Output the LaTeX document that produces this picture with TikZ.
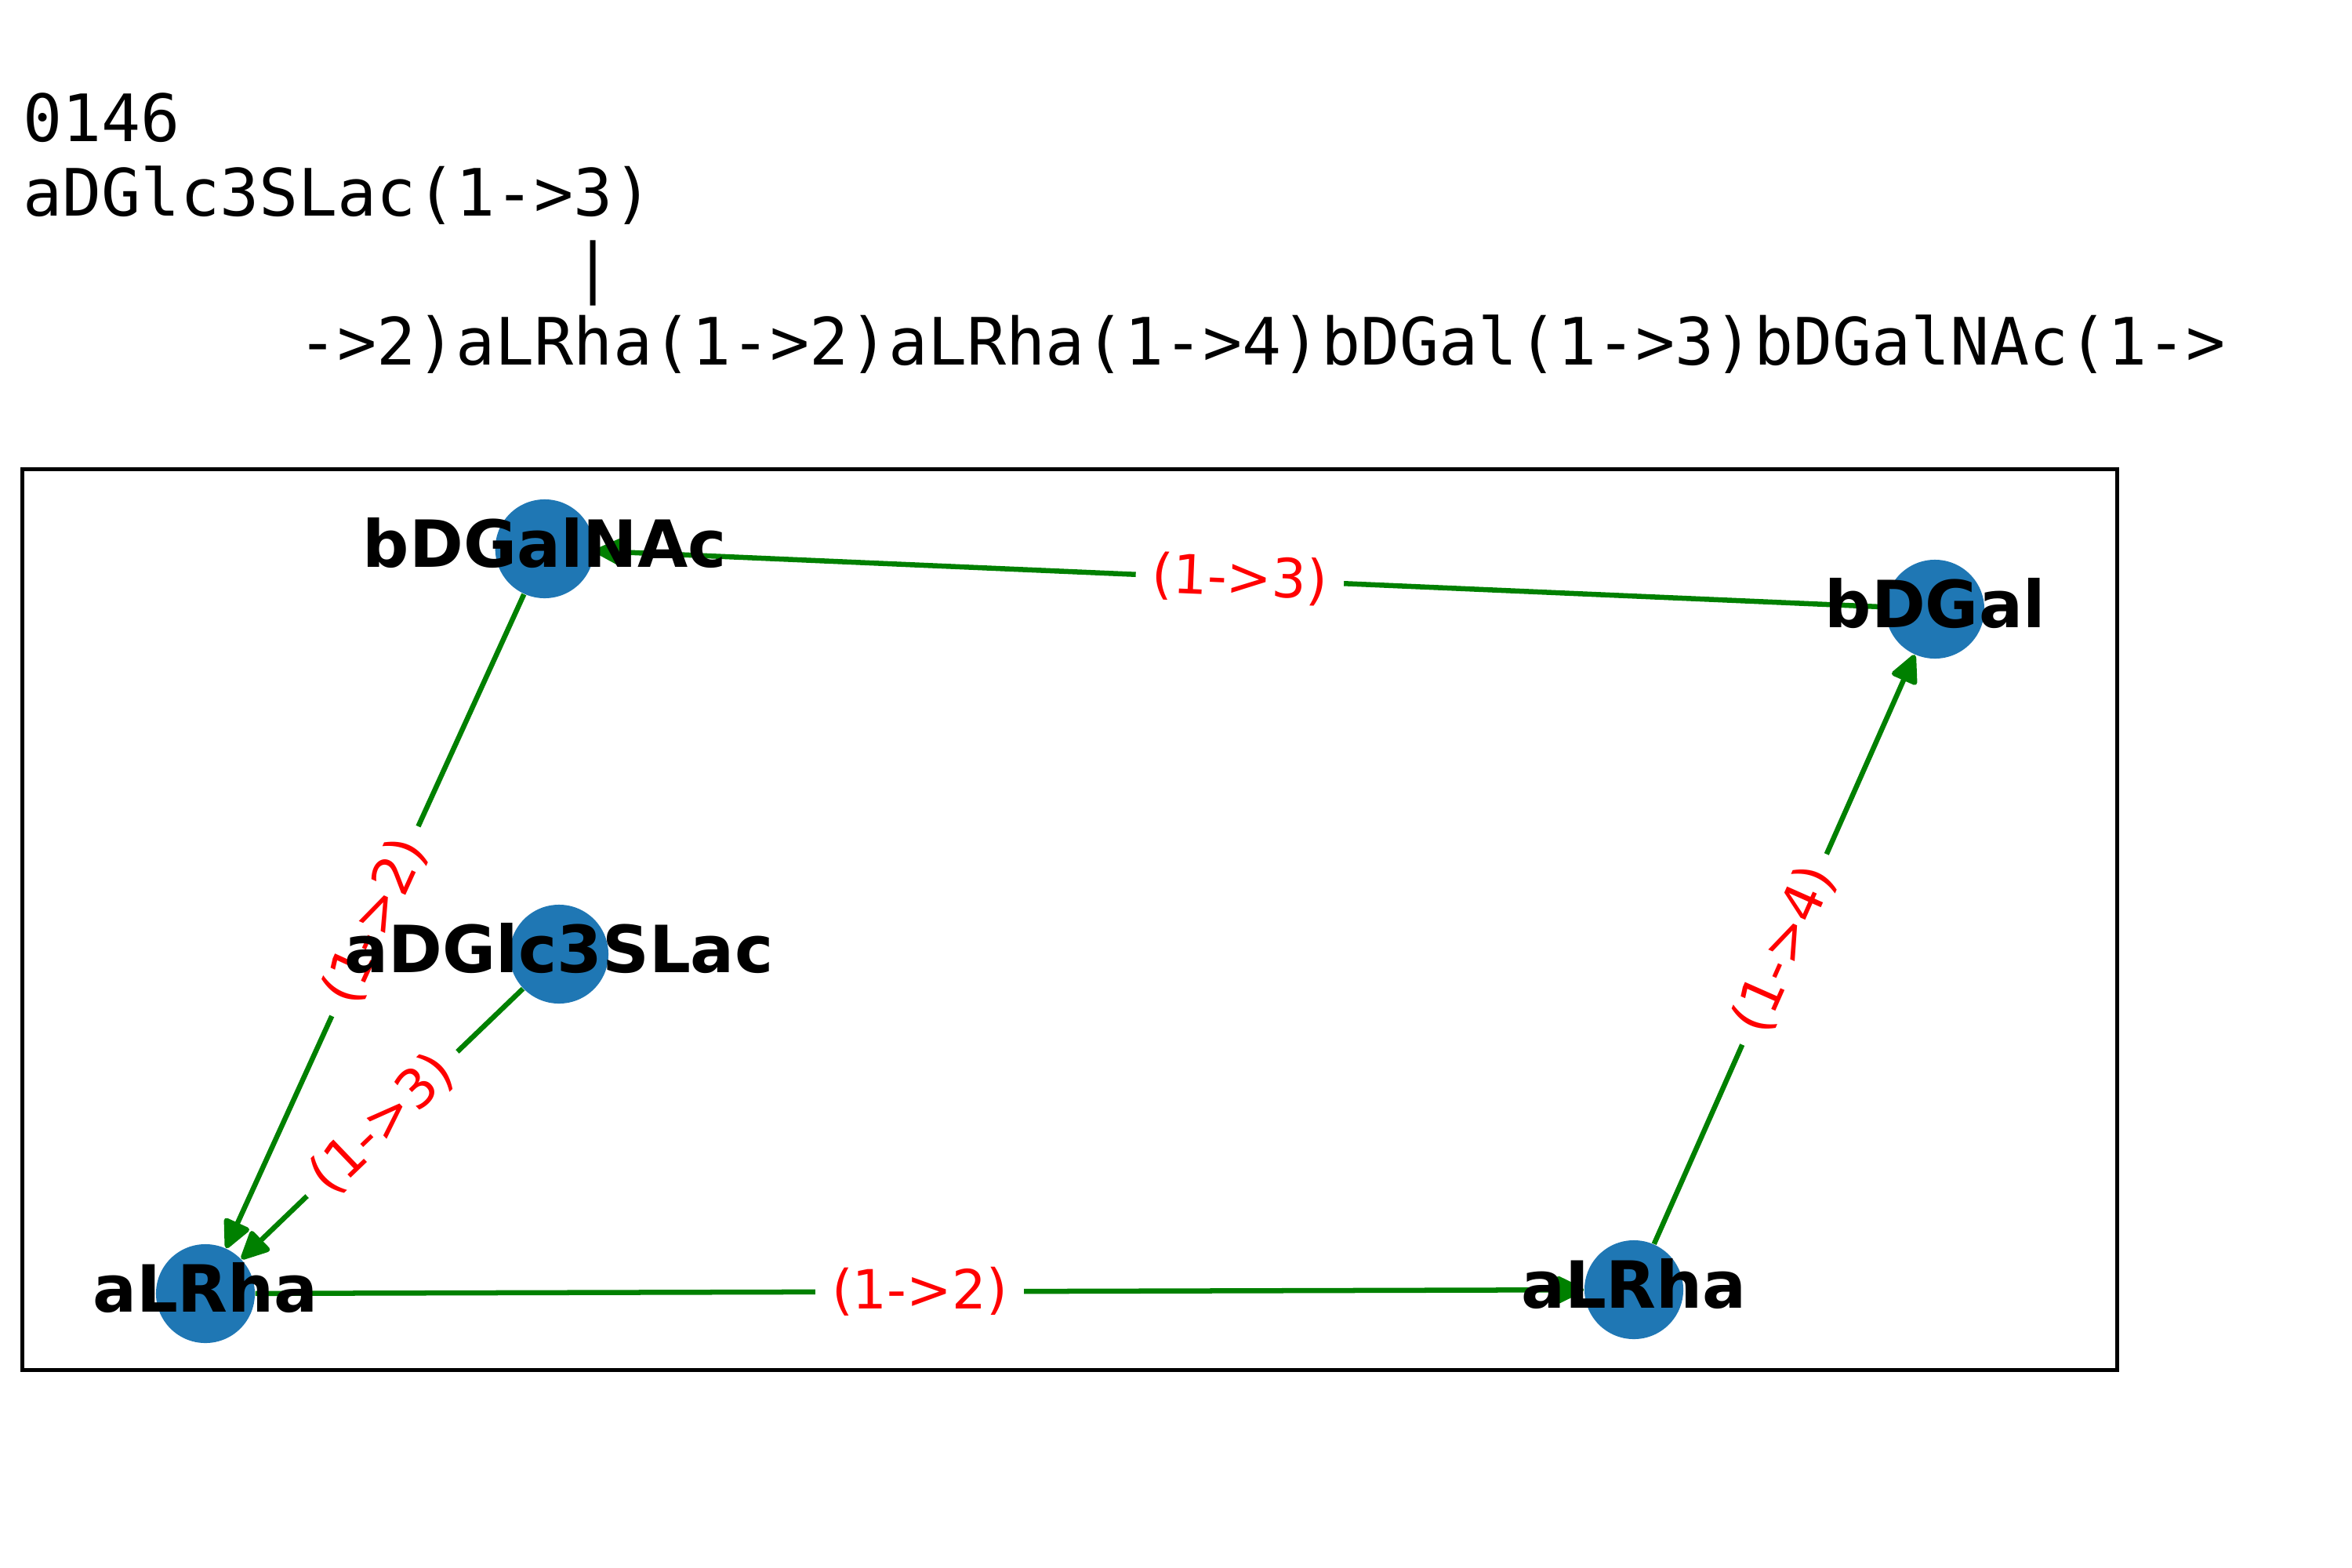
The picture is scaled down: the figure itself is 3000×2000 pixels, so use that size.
\documentclass[tikz,border=0pt]{standalone}
\usepackage{fontspec}
\setmainfont{DejaVu Sans}
\newfontfamily\monofont{DejaVu Sans Mono}
\usetikzlibrary{arrows.meta}
\definecolor{nodeblue}{HTML}{1F77B4}
\definecolor{edgegreen}{HTML}{008000}
\begin{document}
\begin{tikzpicture}[x=0.01cm,y=-0.01cm,
  sugar/.style={circle,fill=nodeblue,minimum size=1.26cm,inner sep=0pt},
  sugarlabel/.style={anchor=base,inner sep=0pt,font=\fontsize{23.6}{28}\selectfont\bfseries},
  link/.style={draw=edgegreen,line width=1.85pt,-{Triangle[round,length=0.40cm,width=0.37cm]}},
  linklabel/.style={midway,sloped,fill=white,text=red,inner sep=5.9pt,font=\fontsize{19.6}{23}\selectfont},
  titleline/.style={anchor=base west,inner sep=0pt,font=\monofont\fontsize{23.7}{28}\selectfont}]
\useasboundingbox (0,0) rectangle (3000,2000);

% title
\node[titleline] (l1) at (28.7,180) {0146};
\node[titleline] (l2) at (28.7,275) {aDGlc3SLac(1->3)};
\node[titleline] (l3) at (28.7,370) {\hphantom{00000000000000}|};
\node[titleline] (l4) at (28.7,465) {\hphantom{0000000}->2)aLRha(1->2)aLRha(1->4)bDGal(1->3)bDGalNAc(1->};

% frame
\draw[line width=1.4pt] (28.7,598.5) rectangle (2700,1747.5);

% nodes
\node[sugar] (galnac) at (694.7,700) {};
\node[sugar] (gal) at (2468,777) {};
\node[sugar] (glc) at (713,1217) {};
\node[sugar] (rhaA) at (262,1650) {};
\node[sugar] (rhaB) at (2084,1645) {};

% edges
\draw[link] (gal) -- node[linklabel] (e1) {(1->3)} (galnac);
\draw[link] (galnac) -- node[linklabel] (e2) {(1->2)} (rhaA);
\draw[link] (glc) -- node[linklabel] (e3) {(1->3)} (rhaA);
\draw[link] (rhaA) -- node[linklabel] (e4) {(1->2)} (rhaB);
\draw[link] (rhaB) -- node[linklabel] (e5) {(1->4)} (gal);

% node labels
\node[sugarlabel] (galnacT) at ([yshift=-0.23cm]galnac.center) {bDGalNAc};
\node[sugarlabel] (galT) at ([yshift=-0.23cm]gal.center) {bDGal};
\node[sugarlabel] (glcT) at ([yshift=-0.23cm]glc.center) {aDGlc3SLac};
\node[sugarlabel] (rhaAT) at ([yshift=-0.23cm]rhaA.center) {aLRha};
\node[sugarlabel] (rhaBT) at ([yshift=-0.23cm]rhaB.center) {aLRha};
\end{tikzpicture}
\end{document}
